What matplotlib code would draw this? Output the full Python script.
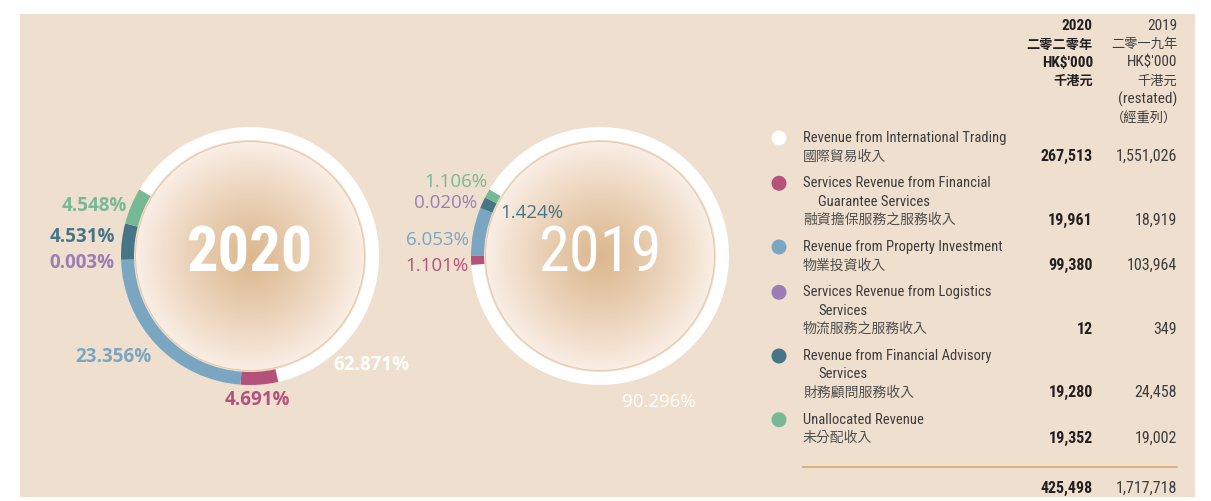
import numpy as np
import matplotlib
matplotlib.use("Agg")
import matplotlib.pyplot as plt
from matplotlib.patches import Circle, Rectangle
from matplotlib import font_manager as fm

W, H = 1211, 501

# ---- data ----
categories_en = [
    ["Revenue from International Trading"],
    ["Services Revenue from Financial", "Guarantee Services"],
    ["Revenue from Property Investment"],
    ["Services Revenue from Logistics", "Services"],
    ["Revenue from Financial Advisory", "Services"],
    ["Unallocated Revenue"],
]
categories_zh = ["國際貿易收入", "融資擔保服務之服務收入", "物業投資收入",
                 "物流服務之服務收入", "財務顧問服務收入", "未分配收入"]
rev_2020 = [267513, 19961, 99380, 12, 19280, 19352]
rev_2019 = [1551026, 18919, 103964, 349, 24458, 19002]
# shares as printed on the chart
pct_2020 = ["62.871%", "4.691%", "23.356%", "0.003%", "4.531%", "4.548%"]
pct_2019 = ["90.296%", "1.101%", "6.053%", "0.020%", "1.424%", "1.106%"]
colors = ["#ffffff", "#b5517a", "#7ba6c1", "#9c7db5", "#467588", "#78b995"]

header_2020 = ["2020", "二零二零年", "HK$'000", "千港元"]
header_2019 = ["2019", "二零一九年", "HK$'000", "千港元", "(restated)", "（經重列）"]

# ---- fonts ----
def pick(names):
    for n in names:
        try:
            fm.findfont(fm.FontProperties(family=n), fallback_to_default=False)
            return n
        except ValueError:
            pass
    return None

NARROW = pick(["Liberation Sans Narrow", "DejaVu Sans Condensed", "Roboto Condensed"])
NSCALE = 1.0
if NARROW is None:
    NARROW = "Liberation Sans"
    NSCALE = 0.84
OPEN = pick(["Open Sans", "Noto Sans"]) or "DejaVu Sans"
CJK = "Noto Sans CJK TC"

BG = "#efdfce"
DARK = "#231f20"
GREY = "#3d3d3d"
LINE = "#d8a86b"


def Y(py):
    return H - py


fig = plt.figure(figsize=(W / 100, H / 100), dpi=100, facecolor="white")
ax = fig.add_axes([0, 0, 1, 1])
ax.axis("off")

# paper background
ax.add_patch(Rectangle((20, Y(497)), 1175, 483, facecolor=BG, edgecolor="none", zorder=0))

# ---- donuts ----
R_OUT, RING, R_DISK = 129, 13, 114.5
n = 300
gx = np.linspace(-1, 1, n)
xx, yy = np.meshgrid(gx, gx)
t = np.clip(np.sqrt(xx ** 2 + yy ** 2), 0, 1) ** 1.15
c_in = np.array([220, 184, 143]) / 255
c_out = np.array([250, 238, 229]) / 255
grad = c_in[None, None, :] * (1 - t[..., None]) + c_out[None, None, :] * t[..., None]


def donut(cx, cy, values, pcts, year, bold, label_pos, label_weight):
    ax.pie(values, colors=colors, startangle=149, counterclock=False,
           radius=R_OUT, center=(cx, Y(cy)), frame=True,
           wedgeprops=dict(width=RING, linewidth=0))
    im = ax.imshow(grad, extent=(cx - R_DISK, cx + R_DISK, Y(cy) - R_DISK, Y(cy) + R_DISK),
                   origin="lower", interpolation="bilinear", zorder=2)
    clip = Circle((cx, Y(cy)), R_DISK, transform=ax.transData)
    im.set_clip_path(clip)
    ax.add_patch(Circle((cx, Y(cy)), R_DISK, fill=False, ec="#e4c8aa", lw=0.7, zorder=3))
    ax.text(cx, Y(cy - 1), year, ha="center", va="center", color="white",
            fontsize=45 * NSCALE, fontweight="bold" if bold else "normal",
            family=NARROW, zorder=4)
    for p, col, (px, py, ha) in zip(pcts, colors, label_pos):
        ax.text(px, Y(py), p, ha=ha, va="center",
                color=col, fontsize=13.5, fontweight=label_weight, family=OPEN, zorder=4)


pos_2020 = [(333, 365, "left"), (257, 400, "center"), (152, 357, "right"),
            (115, 263, "right"), (115, 237, "right"), (127, 206, "right")]
pos_2019 = [(622, 402, "left"), (469, 266, "right"), (469, 240, "right"),
            (477, 203, "right"), (500, 213, "left"), (487, 182, "right")]

donut(250, 256, rev_2020, pct_2020, "2020", True, pos_2020, "bold")
donut(600, 256, rev_2019, pct_2019, "2019", False, pos_2019, "normal")

# ---- table ----
X20, X19 = 1093, 1177
XT, XI, XD = 803, 818, 779
STEP = 18.4

for i, s in enumerate(header_2020):
    cjk = any(ord(ch) > 0x2000 for ch in s)
    ax.text(X20, Y(26 + i * STEP), s, ha="right", va="center", color=DARK,
            fontsize=9.5 if cjk else 11 * NSCALE, fontweight="bold",
            family=CJK if cjk else NARROW)
for i, s in enumerate(header_2019):
    cjk = any(ord(ch) > 0x2000 for ch in s)
    ax.text(X19, Y(26 + i * STEP), s, ha="right", va="center", color=GREY,
            fontsize=9.5 if cjk else 11 * NSCALE,
            family=CJK if cjk else NARROW)

y = 138
for en, zh, v20, v19, col in zip(categories_en, categories_zh, rev_2020, rev_2019, colors):
    ax.add_patch(Circle((XD, Y(y)), 7.5, facecolor=col, edgecolor="none", zorder=3))
    for j, line in enumerate(en):
        ax.text(XT if j == 0 else XI, Y(y + j * STEP), line, ha="left", va="center",
                color=GREY, fontsize=10.5 * NSCALE, family=NARROW)
    yz = y + len(en) * STEP
    ax.text(XT, Y(yz), zh, ha="left", va="center", color="#505050",
            fontsize=10, family=CJK)
    ax.text(X20, Y(yz), f"{v20:,}", ha="right", va="center", color=DARK,
            fontsize=11.5 * NSCALE, fontweight="bold", family=NARROW)
    ax.text(X19, Y(yz), f"{v19:,}", ha="right", va="center", color=GREY,
            fontsize=11.5 * NSCALE, family=NARROW)
    y = yz + STEP + 8.5

ax.plot([XT, X19], [Y(467), Y(467)], color=LINE, lw=1.2)
ax.text(X20, Y(488), f"{sum(rev_2020):,}", ha="right", va="center", color=DARK,
        fontsize=11.5 * NSCALE, fontweight="bold", family=NARROW)
ax.text(X19, Y(488), f"{sum(rev_2019):,}", ha="right", va="center", color=GREY,
        fontsize=11.5 * NSCALE, family=NARROW)

ax.set_aspect("equal")
ax.set_xlim(0, W)
ax.set_ylim(0, H)
fig.savefig("out.png", dpi=100, facecolor="white")
